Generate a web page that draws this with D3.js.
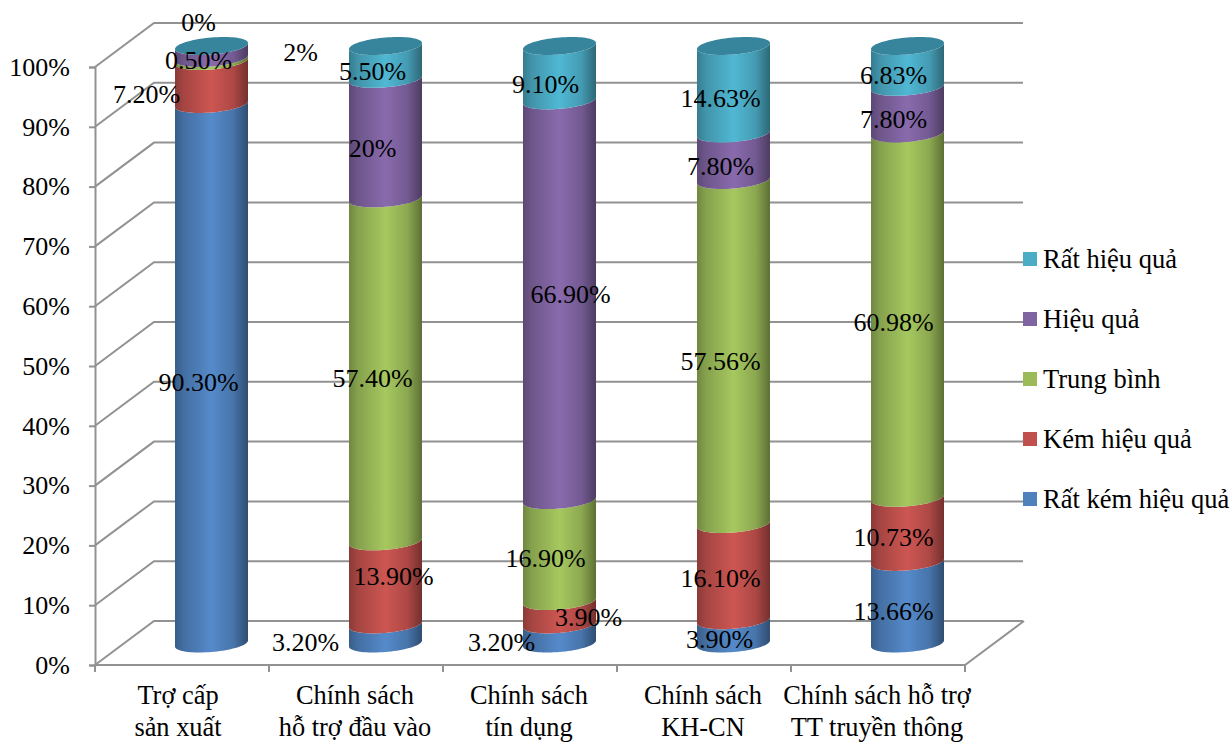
<!DOCTYPE html>
<html>
<head>
<meta charset="utf-8">
<script src="https://cdnjs.cloudflare.com/ajax/libs/d3/7.8.5/d3.min.js"></script>
<style>
  html, body { margin: 0; padding: 0; background: #fff; }
  svg { display: block; }
  text { font-family: "Liberation Serif", serif; fill: #000; }
</style>
</head>
<body>
<svg id="chart" width="1232" height="742"></svg>
<script>
// Survey results: share of respondents per rating for each policy.
const categories = [
  ["Trợ cấp", "sản xuất"],
  ["Chính sách", "hỗ trợ đầu vào"],
  ["Chính sách", "tín dụng"],
  ["Chính sách", "KH-CN"],
  ["Chính sách hỗ trợ", "TT truyền thông"]
];
const seriesNames = ["Rất kém hiệu quả", "Kém hiệu quả", "Trung bình", "Hiệu quả", "Rất hiệu quả"];
const veryPoor = [90.3, 3.2, 3.2, 3.9, 13.66];
const poor = [7.2, 13.9, 3.9, 16.1, 10.73];
const average = [0.5, 57.4, 16.9, 57.56, 60.98];
const effective = [2, 20, 66.9, 7.8, 7.8];
const veryEffective = [0, 5.5, 9.1, 14.63, 6.83];
const axisTicks = [0, 0.1, 0.2, 0.3, 0.4, 0.5, 0.6, 0.7, 0.8, 0.9, 1];

const seriesValues = [veryPoor, poor, average, effective, veryEffective];

// Label nudges from each segment's centre, one [dx, dy] per series and policy.
const labelNudges = [
  [[-13, 9], [-80, 9], [-58, 9], [-14, 8], [-14, 9]],
  [[-65, 12], [8, -6], [29, 5], [-13, 7], [-14, 8]],
  [[-13, 1], [-13, 9], [-14, 8], [-13, 10], [-14, 7]],
  [[89, 1], [-13, 10], [11, -6], [-13, 10], [-14, 10]],
  [[-13, -23], [-13, 9], [-14, 11], [-13, 9], [-14, 9]]
];
// Horizontal shift of each category caption from its band centre.
const captionShift = [-4, -1, -1, -1, -1];

const colors = ["#4f81bd", "#c0504d", "#9bbb59", "#8064a2", "#4bacc6"];
const capColor = "#37859c";
const gridColor = "#929292";
const fontSize = 26;
const captionSize = 26.4;
const legendSize = 26.5;

const svg = d3.select("#chart");

// Box of the pseudo-3D plot: front plane, plus the shift to the back wall.
const front = { left: 95, right: 965, bottom: 665, top: 67 };
const depth = { x: 59, y: -44 };

const rows = categories.map((c, i) => {
  const row = { index: i };
  seriesNames.forEach((s, k) => { row[s] = seriesValues[k][i]; });
  return row;
});
const stacked = d3.stack().keys(seriesNames).offset(d3.stackOffsetExpand)(rows);

const xFront = d3.scaleBand().domain(d3.range(categories.length)).range([front.left, front.right]);
const yFront = d3.scaleLinear().domain([0, 1]).range([front.bottom, front.top]);
// Cylinders stand halfway through the depth of the box.
const yBar = d3.scaleLinear().domain([0, 1]).range([643.5, 46]);
const barCentre = i => xFront(i) + xFront.bandwidth() / 2 + 29.5;

const rx = 36.5, ry = 8.5, tilt = 3;
const ringPoint = (cx, cy, t) => [cx + rx * Math.cos(t), cy + ry * Math.sin(t) - tilt * Math.cos(t)];
const frontArc = (cx, cy) => d3.range(0, 41).map(n => ringPoint(cx, cy, Math.PI * n / 40));
const fullRing = (cx, cy) => d3.range(0, 80).map(n => ringPoint(cx, cy, Math.PI * n / 40));

// Horizontal shading that makes each band read as a curved surface.
const defs = svg.append("defs");
colors.forEach((c, k) => {
  const base = d3.rgb(c);
  const g = defs.append("linearGradient").attr("id", "shade" + k)
    .attr("x1", "0%").attr("x2", "100%").attr("y1", "0%").attr("y2", "0%");
  [[0, 0.72], [0.12, 0.86], [0.5, 1.07], [0.8, 0.9], [1, 0.6]].forEach(([o, f]) => {
    g.append("stop").attr("offset", o)
      .attr("stop-color", d3.rgb(base.r * f, base.g * f, base.b * f).formatHex());
  });
});

// Walls and floor of the box.
const grid = svg.append("g").attr("fill", "none").attr("stroke", gridColor).attr("stroke-width", 2);
axisTicks.forEach(v => {
  const y = yFront(v);
  grid.append("polyline").attr("points", [
    [front.left, y], [front.left + depth.x, y + depth.y], [front.right + depth.x - 1, y + depth.y]
  ].join(" "));
});
grid.append("polyline").attr("points", [
  [front.left, front.bottom], [front.right, front.bottom], [front.right + depth.x, front.bottom + depth.y]
].join(" "));

// Value axis on the front-left edge.
const yAxis = svg.append("g").attr("transform", `translate(${front.left},0)`)
  .call(d3.axisLeft(yFront).tickValues(axisTicks).tickSize(6).tickPadding(19).tickFormat(d3.format(".0%")));
yAxis.selectAll("path, line").attr("stroke", gridColor).attr("stroke-width", 2);
yAxis.selectAll("text").attr("font-size", fontSize).attr("font-family", "Liberation Serif").attr("fill", "#000");

// Category ticks sit on the band edges, so they are drawn from the band scale.
const catAxis = svg.append("g").attr("stroke", gridColor).attr("stroke-width", 2);
d3.range(categories.length + 1).forEach(i => {
  const x = front.left + i * xFront.step();
  catAxis.append("line").attr("x1", x).attr("x2", x).attr("y1", front.bottom).attr("y2", front.bottom + 7);
});
categories.forEach((lines, i) => {
  lines.forEach((line, n) => {
    svg.append("text")
      .attr("x", xFront(i) + xFront.bandwidth() / 2 + captionShift[i])
      .attr("y", 704 + n * 32)
      .attr("text-anchor", "middle")
      .attr("font-size", captionSize)
      .text(line);
  });
});

// Cylinder bands, then the cap on each top.
const line = d3.line();
const bars = svg.append("g");
stacked.forEach((layer, k) => {
  bars.selectAll(null).data(layer).join("path")
    .attr("fill", `url(#shade${k})`)
    .attr("d", (d, i) => {
      const cx = barCentre(i);
      const upper = frontArc(cx, yBar(d[1]));
      const lower = frontArc(cx, yBar(d[0])).reverse();
      return line(upper.concat(lower)) + "Z";
    });
});
bars.selectAll(null).data(categories).join("path")
  .attr("fill", capColor)
  .attr("d", (d, i) => line(fullRing(barCentre(i), yBar(1))) + "Z");

// Value labels.
const formatPct = v => (Number.isInteger(v) ? v : v.toFixed(2)) + "%";
stacked.forEach((layer, k) => {
  svg.append("g").selectAll("text").data(layer).join("text")
    .attr("x", (d, i) => barCentre(i) + labelNudges[k][i][0])
    .attr("y", (d, i) => yBar((d[0] + d[1]) / 2) + labelNudges[k][i][1])
    .attr("dy", "0.32em")
    .attr("text-anchor", "middle")
    .attr("font-size", fontSize)
    .text((d, i) => formatPct(seriesValues[k][i]));
});

// Legend, top entry first.
const legendY = d3.scalePoint().domain(seriesNames.slice().reverse()).range([260, 500]);
const legend = svg.append("g");
seriesNames.forEach((name, k) => {
  legend.append("rect")
    .attr("x", 1023).attr("y", legendY(name) - 8).attr("width", 14).attr("height", 14)
    .attr("fill", colors[k]);
  legend.append("text")
    .attr("x", 1043).attr("y", legendY(name)).attr("dy", "0.32em")
    .attr("font-size", legendSize)
    .text(name);
});
</script>
</body>
</html>
